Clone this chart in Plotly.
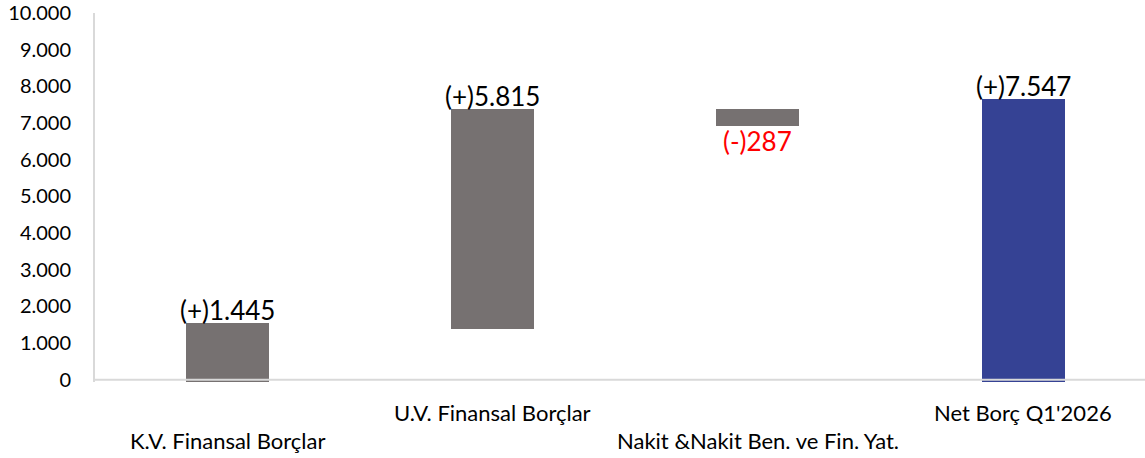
import plotly.graph_objects as go

categories = ["K.V. Finansal Borçlar", "U.V. Finansal Borçlar",
              "Nakit &Nakit Ben. ve Fin. Yat.", "Net Borç Q1'2026"]
bar_bottom = [-60, 1381, 6930, -70]
bar_top = [1545, 7376, 7376, 7657]
label_text = ["(+)1.445", "(+)5.815", "(-)287", "(+)7.547"]
label_side = ["above", "above", "below", "above"]
bar_colors = ["#767171", "#767171", "#767171", "#354294"]
label_colors = ["#000000", "#000000", "#ff0000", "#000000"]
y_tickvals = list(range(0, 10001, 1000))
y_ticktext = ["0", "1.000", "2.000", "3.000", "4.000", "5.000", "6.000",
              "7.000", "8.000", "9.000", "10.000"]
label_row = [1, 0, 1, 0]  # staggered category labels

FONT = "Lato"
x_idx = list(range(len(categories)))

fig = go.Figure()
fig.add_trace(go.Bar(
    x=x_idx,
    y=[t - b for t, b in zip(bar_top, bar_bottom)],
    base=bar_bottom,
    width=0.313,
    marker=dict(color=bar_colors, line=dict(width=0)),
    hoverinfo="skip",
))

annotations = []
for i, (txt, side, col) in enumerate(zip(label_text, label_side, label_colors)):
    if side == "above":
        annotations.append(dict(x=i, y=bar_top[i], xref="x", yref="y", text=txt,
                                showarrow=False, yanchor="bottom", yshift=-5,
                                font=dict(family=FONT, size=26, color=col)))
    else:
        annotations.append(dict(x=i, y=bar_bottom[i], xref="x", yref="y", text=txt,
                                showarrow=False, yanchor="top", yshift=3,
                                font=dict(family=FONT, size=26, color=col)))

for i, (cat, row) in enumerate(zip(categories, label_row)):
    annotations.append(dict(x=i, y=0, xref="x", yref="paper", text=cat,
                            showarrow=False, yanchor="middle",
                            yshift=-30 - 28 * row,
                            font=dict(family=FONT, size=22, color="#000000")))

fig.update_layout(
    width=1145, height=458,
    margin=dict(l=95, r=0, t=13, b=76, autoexpand=False),
    paper_bgcolor="white", plot_bgcolor="white",
    showlegend=False,
    bargap=0,
    annotations=annotations,
    shapes=[dict(type="line", xref="paper", yref="y", x0=0, x1=1, y0=0, y1=0,
                 line=dict(color="#d9d9d9", width=2), layer="above")],
    xaxis=dict(range=[-0.5, 3.46], showticklabels=False, showgrid=False,
               zeroline=False, showline=False, ticks="", automargin=False),
    yaxis=dict(range=[-60, 10000], tickvals=y_tickvals, ticktext=y_ticktext,
               showgrid=False, zeroline=False, showline=True, automargin=False,
               linecolor="#d9d9d9", linewidth=2, ticks="",
               ticklabelstandoff=18,
               tickfont=dict(family=FONT, size=20, color="#000000")),
)

fig.write_html(
    "out.html",
    config={"displayModeBar": False, "staticPlot": True},
    post_script="document.body.style.margin='0';document.body.style.overflow='hidden';",
)
